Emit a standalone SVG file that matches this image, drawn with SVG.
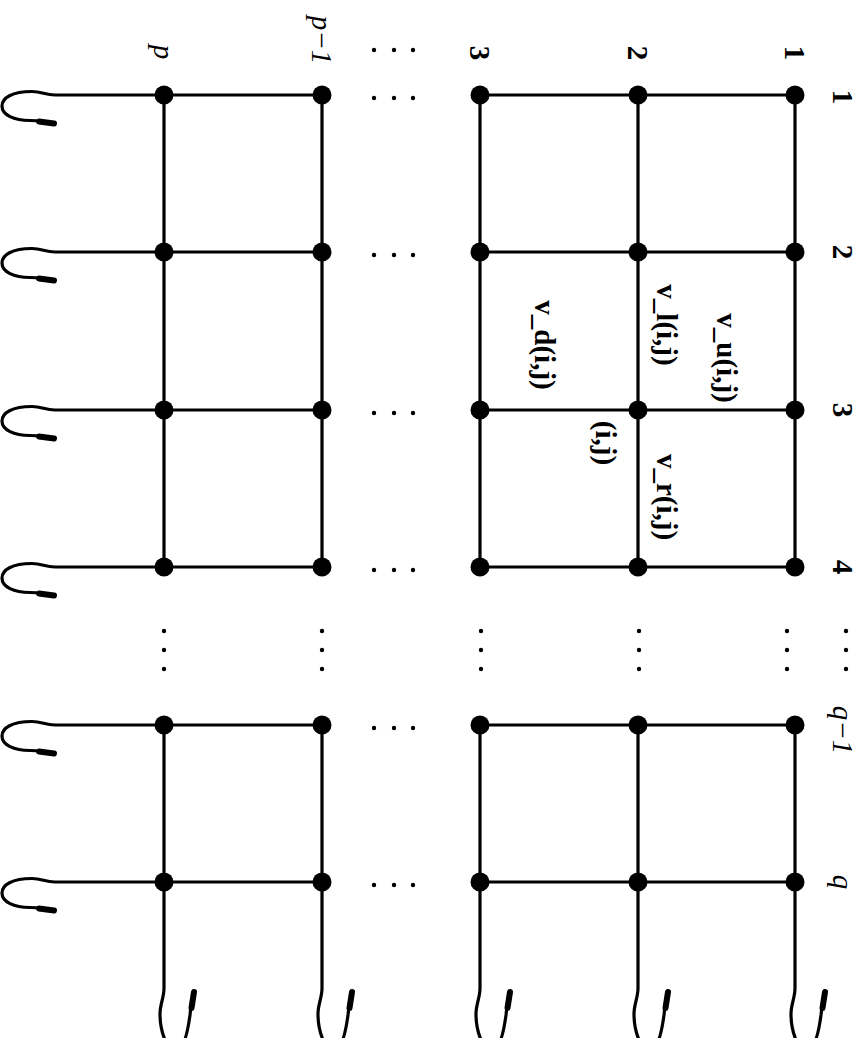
<svg xmlns="http://www.w3.org/2000/svg" width="867" height="1038" viewBox="0 0 867 1038">
<style>
.e{stroke:#000;stroke-width:3.2;fill:none}
.t{stroke:#000;stroke-width:6;stroke-linecap:round;fill:none}
.n{fill:#000}
.d{fill:#000}
.lb{font-family:"Liberation Serif",serif;font-size:29px;font-weight:bold;fill:#000}
.li{font-family:"Liberation Serif",serif;font-size:29px;font-style:italic;fill:#000}
</style>
<defs>
<g id="loopL">
<path class="e" d="M164,0 H55 C45,0 42,-3.5 32,-3.5 C12,-3.5 2,3 2,11 C2,20 14,25.5 30,25.5 C42,25.5 50,27.5 56,29"/>
<path class="t" d="M39,26.5 L54,28.5"/>
</g>
<g id="tailB">
<path class="e" d="M0,882 V988 C0,998 -4,1004 -4,1014 C-4,1030 2,1050 12,1050 C20,1050 24,1030 26,1015 C27,1005 28,998 30,990"/>
<path class="t" d="M27.5,1008 L30,992"/>
</g>
<circle id="dt" r="2.2" class="d"/>
</defs>
<rect width="867" height="1038" fill="#fff"/>
<g id="connectors">
<path class="e" d="M480,95 H795 M480,252 H795 M480,410 H795 M480,567 H795 M480,725 H795 M480,882 H795"/>
<path class="e" d="M164,95 H322 M164,252 H322 M164,410 H322 M164,567 H322 M164,725 H322 M164,882 H322"/>
<path class="e" d="M795,95 V567 M638,95 V567 M480,95 V567 M322,95 V567 M164,95 V567"/>
<path class="e" d="M795,725 V882 M638,725 V882 M480,725 V882 M322,725 V882 M164,725 V882"/>
<use href="#loopL" transform="translate(0,95)"/>
<use href="#loopL" transform="translate(0,252)"/>
<use href="#loopL" transform="translate(0,410)"/>
<use href="#loopL" transform="translate(0,567)"/>
<use href="#loopL" transform="translate(0,725)"/>
<use href="#loopL" transform="translate(0,882)"/>
<use href="#tailB" transform="translate(795,0)"/>
<use href="#tailB" transform="translate(638,0)"/>
<use href="#tailB" transform="translate(480,0)"/>
<use href="#tailB" transform="translate(322,0)"/>
<use href="#tailB" transform="translate(164,0)"/>
</g>
<g id="nodes">
<g id="n1_1"><circle class="n" cx="795" cy="95" r="9.5"/></g>
<g id="n1_2"><circle class="n" cx="795" cy="252" r="9.5"/></g>
<g id="n1_3"><circle class="n" cx="795" cy="410" r="9.5"/></g>
<g id="n1_4"><circle class="n" cx="795" cy="567" r="9.5"/></g>
<g id="n1_q1"><circle class="n" cx="795" cy="725" r="9.5"/></g>
<g id="n1_q"><circle class="n" cx="795" cy="882" r="9.5"/></g>
<g id="n2_1"><circle class="n" cx="638" cy="95" r="9.5"/></g>
<g id="n2_2"><circle class="n" cx="638" cy="252" r="9.5"/></g>
<g id="n2_3"><circle class="n" cx="638" cy="410" r="9.5"/></g>
<g id="n2_4"><circle class="n" cx="638" cy="567" r="9.5"/></g>
<g id="n2_q1"><circle class="n" cx="638" cy="725" r="9.5"/></g>
<g id="n2_q"><circle class="n" cx="638" cy="882" r="9.5"/></g>
<g id="n3_1"><circle class="n" cx="480" cy="95" r="9.5"/></g>
<g id="n3_2"><circle class="n" cx="480" cy="252" r="9.5"/></g>
<g id="n3_3"><circle class="n" cx="480" cy="410" r="9.5"/></g>
<g id="n3_4"><circle class="n" cx="480" cy="567" r="9.5"/></g>
<g id="n3_q1"><circle class="n" cx="480" cy="725" r="9.5"/></g>
<g id="n3_q"><circle class="n" cx="480" cy="882" r="9.5"/></g>
<g id="np1_1"><circle class="n" cx="322" cy="95" r="9.5"/></g>
<g id="np1_2"><circle class="n" cx="322" cy="252" r="9.5"/></g>
<g id="np1_3"><circle class="n" cx="322" cy="410" r="9.5"/></g>
<g id="np1_4"><circle class="n" cx="322" cy="567" r="9.5"/></g>
<g id="np1_q1"><circle class="n" cx="322" cy="725" r="9.5"/></g>
<g id="np1_q"><circle class="n" cx="322" cy="882" r="9.5"/></g>
<g id="np_1"><circle class="n" cx="164" cy="95" r="9.5"/></g>
<g id="np_2"><circle class="n" cx="164" cy="252" r="9.5"/></g>
<g id="np_3"><circle class="n" cx="164" cy="410" r="9.5"/></g>
<g id="np_4"><circle class="n" cx="164" cy="567" r="9.5"/></g>
<g id="np_q1"><circle class="n" cx="164" cy="725" r="9.5"/></g>
<g id="np_q"><circle class="n" cx="164" cy="882" r="9.5"/></g>
</g>
<g id="dots">
<g transform="translate(0,50)"><use href="#dt" x="374"/><use href="#dt" x="394"/><use href="#dt" x="413"/></g>
<g transform="translate(0,98)"><use href="#dt" x="374"/><use href="#dt" x="394"/><use href="#dt" x="413"/></g>
<g transform="translate(0,255)"><use href="#dt" x="374"/><use href="#dt" x="394"/><use href="#dt" x="413"/></g>
<g transform="translate(0,413)"><use href="#dt" x="374"/><use href="#dt" x="394"/><use href="#dt" x="413"/></g>
<g transform="translate(0,570)"><use href="#dt" x="374"/><use href="#dt" x="394"/><use href="#dt" x="413"/></g>
<g transform="translate(0,728)"><use href="#dt" x="374"/><use href="#dt" x="394"/><use href="#dt" x="413"/></g>
<g transform="translate(0,885)"><use href="#dt" x="374"/><use href="#dt" x="394"/><use href="#dt" x="413"/></g>
<g transform="translate(164,0)"><use href="#dt" y="631"/><use href="#dt" y="650"/><use href="#dt" y="669"/></g>
<g transform="translate(322,0)"><use href="#dt" y="631"/><use href="#dt" y="650"/><use href="#dt" y="669"/></g>
<g transform="translate(481,0)"><use href="#dt" y="631"/><use href="#dt" y="650"/><use href="#dt" y="669"/></g>
<g transform="translate(639,0)"><use href="#dt" y="631"/><use href="#dt" y="650"/><use href="#dt" y="669"/></g>
<g transform="translate(787,0)"><use href="#dt" y="631"/><use href="#dt" y="650"/><use href="#dt" y="669"/></g>
<g transform="translate(846,0)"><use href="#dt" y="631"/><use href="#dt" y="650"/><use href="#dt" y="669"/></g>
</g>
<g id="labels" text-anchor="middle">
<text class="lb" transform="translate(785,53) rotate(90)">1</text>
<text class="lb" transform="translate(628,53) rotate(90)">2</text>
<text class="lb" transform="translate(470,53) rotate(90)">3</text>
<text class="li" transform="translate(312,40) rotate(90)">p−1</text>
<text class="li" transform="translate(154,52) rotate(90)">p</text>
<text class="lb" transform="translate(833,97) rotate(90)">1</text>
<text class="lb" transform="translate(833,252) rotate(90)">2</text>
<text class="lb" transform="translate(833,410) rotate(90)">3</text>
<text class="lb" transform="translate(833,567) rotate(90)">4</text>
<text class="li" transform="translate(833,730) rotate(90)">q−1</text>
<text class="li" transform="translate(833,882) rotate(90)">q</text>
<text class="lb" transform="translate(717,358) rotate(90)">v_u(i,j)</text>
<text class="lb" transform="translate(657,325) rotate(90)">v_l(i,j)</text>
<text class="lb" transform="translate(657,497) rotate(90)">v_r(i,j)</text>
<text class="lb" transform="translate(596,443) rotate(90)">(i,j)</text>
<text class="lb" transform="translate(535,345) rotate(90)">v_d(i,j)</text>
</g>
</svg>
